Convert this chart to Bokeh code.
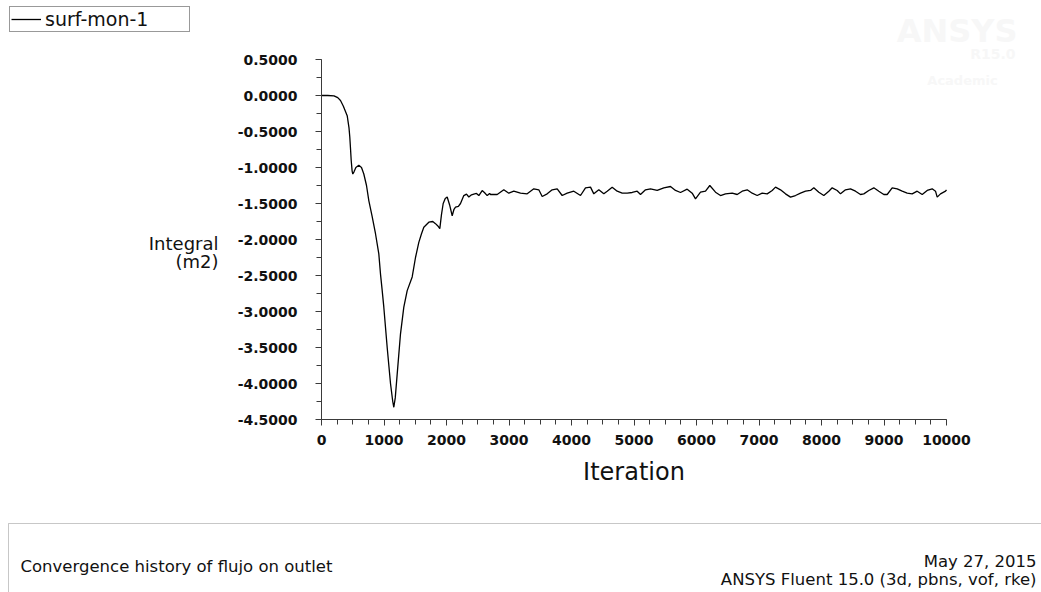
from bokeh.plotting import figure
from bokeh.models import (Range1d, SingleIntervalTicker, NumeralTickFormatter, Label,
                          BoxAnnotation, Legend, LegendItem, ColumnDataSource, LinearAxis)
from bokeh.embed import file_html
from bokeh.resources import INLINE

# ---------------- data ----------------
series_name = "surf-mon-1"
iterations = [
    0, 100, 200, 260, 304, 350, 411, 440, 453, 465, 475, 490, 501, 520, 550, 597, 640, 677,
    720, 757, 810, 864, 917, 944, 970, 997, 1051, 1104, 1140, 1157, 1180, 1211, 1264, 1317,
    1371, 1451, 1504, 1557, 1600, 1637, 1717, 1780, 1824, 1870, 1893, 1920, 1947, 1980, 2011,
    2050, 2091, 2120, 2144, 2190, 2224, 2277, 2320, 2357, 2400, 2437, 2480, 2517, 2571, 2610,
    2651, 2690, 2704, 2811, 2917, 2997, 3077, 3184, 3291, 3397, 3477, 3531, 3611, 3691, 3771,
    3851, 3931, 4037, 4144, 4224, 4304, 4357, 4437, 4517, 4571, 4651, 4731, 4811, 4891, 4971,
    5051, 5104, 5184, 5264, 5371, 5477, 5584, 5664, 5744, 5851, 5931, 5984, 6064, 6144, 6213,
    6304, 6384, 6464, 6571, 6651, 6731, 6811, 6891, 6971, 7051, 7131, 7211, 7264, 7344, 7424,
    7504, 7584, 7664, 7744, 7824, 7877, 7957, 8037, 8117, 8171, 8251, 8304, 8384, 8464, 8544,
    8624, 8677, 8757, 8837, 8917, 8997, 9051, 9131, 9211, 9291, 9371, 9451, 9531, 9611, 9691,
    9771, 9824, 9851, 9904, 9984, 10000,
]
integral = [
    0.0, 0.0, -0.005, -0.03, -0.07, -0.15, -0.28, -0.45, -0.58, -0.75, -0.90, -1.05, -1.09,
    -1.06, -1.00, -0.97, -1.00, -1.09, -1.25, -1.46, -1.68, -1.92, -2.20, -2.48, -2.70, -2.94,
    -3.50, -4.00, -4.25, -4.33, -4.20, -3.87, -3.31, -2.94, -2.71, -2.52, -2.25, -2.04, -1.92,
    -1.83, -1.76, -1.75, -1.78, -1.82, -1.85, -1.65, -1.50, -1.43, -1.41, -1.52, -1.67, -1.58,
    -1.55, -1.54, -1.50, -1.39, -1.37, -1.41, -1.38, -1.37, -1.36, -1.39, -1.32, -1.35, -1.39,
    -1.36, -1.375, -1.375, -1.310, -1.357, -1.329, -1.357, -1.366, -1.296, -1.310, -1.403,
    -1.366, -1.310, -1.296, -1.389, -1.357, -1.329, -1.389, -1.282, -1.273, -1.366, -1.310,
    -1.366, -1.329, -1.273, -1.329, -1.357, -1.357, -1.347, -1.329, -1.375, -1.310, -1.296,
    -1.319, -1.282, -1.264, -1.319, -1.347, -1.301, -1.357, -1.435, -1.343, -1.329, -1.250,
    -1.343, -1.389, -1.366, -1.357, -1.375, -1.329, -1.310, -1.357, -1.389, -1.357, -1.366,
    -1.319, -1.273, -1.310, -1.366, -1.412, -1.389, -1.357, -1.329, -1.319, -1.282, -1.343,
    -1.389, -1.329, -1.282, -1.319, -1.366, -1.310, -1.296, -1.329, -1.375, -1.366, -1.319,
    -1.282, -1.329, -1.375, -1.375, -1.282, -1.296, -1.329, -1.357, -1.366, -1.329, -1.375,
    -1.319, -1.296, -1.329, -1.412, -1.366, -1.329, -1.310,
]
x_axis_limits = [0, 10000]
y_axis_limits = [-4.5, 0.5]
x_tick_step = 1000
y_tick_step = 0.5

y_title_lines = ["Integral", "(m2)"]
x_title = "Iteration"
footer_left = "Convergence history of flujo on outlet"
footer_right = ["May 27, 2015", "ANSYS Fluent 15.0 (3d, pbns, vof, rke)"]
watermark = ["ANSYS", "R15.0", "Academic"]

# ---------------- layout: the plotting area spans the whole canvas ----------------
W, H = 1041, 592
AX_L, AX_T, AX_W, AX_H = 321, 59, 625, 360   # axes box in page pixels

def dx(px):
    return x_axis_limits[0] + (px - AX_L) * (x_axis_limits[1] - x_axis_limits[0]) / AX_W

def dy(py):
    return y_axis_limits[1] - (py - AX_T) * (y_axis_limits[1] - y_axis_limits[0]) / AX_H

p = figure(width=W, height=H, output_backend="svg", toolbar_location=None,
           x_range=Range1d(dx(0), dx(W)), y_range=Range1d(dy(H), dy(0)),
           x_axis_type=None, y_axis_type=None,
           min_border=0, min_border_left=0, min_border_right=0,
           min_border_top=0, min_border_bottom=0)
p.outline_line_color = None
p.background_fill_color = "white"
p.border_fill_color = "white"

src = ColumnDataSource(dict(it=iterations, val=integral))
r = p.line("it", "val", source=src, line_color="black", line_width=1.3)

axis_col = "#3a3a3a"
xaxis = LinearAxis(fixed_location=y_axis_limits[0], bounds=tuple(x_axis_limits),
                   ticker=SingleIntervalTicker(interval=x_tick_step, num_minor_ticks=4),
                   formatter=NumeralTickFormatter(format="0"))
yaxis = LinearAxis(fixed_location=x_axis_limits[0], bounds=tuple(y_axis_limits),
                   ticker=SingleIntervalTicker(interval=y_tick_step, num_minor_ticks=2),
                   formatter=NumeralTickFormatter(format="0.0000"))
for ax in (xaxis, yaxis):
    ax.axis_line_color = axis_col
    ax.major_tick_line_color = axis_col
    ax.minor_tick_line_color = axis_col
    ax.major_tick_in = 0
    ax.major_tick_out = 6
    ax.minor_tick_in = 0
    ax.minor_tick_out = 5
    ax.major_label_text_font = "DejaVu Sans"
    ax.major_label_text_font_size = "14px"
    ax.major_label_text_font_style = "bold"
    ax.major_label_text_color = "#111111"
xaxis.major_label_standoff = 9
yaxis.major_label_standoff = 18
xaxis.axis_label = x_title
xaxis.axis_label_text_font = "DejaVu Sans"
xaxis.axis_label_text_font_size = "24px"
xaxis.axis_label_text_font_style = "normal"
xaxis.axis_label_text_color = "#111111"
xaxis.axis_label_standoff = 10
p.add_layout(xaxis, "below")
p.add_layout(yaxis, "left")

# y title (two lines, horizontal)
for txt, py in zip(y_title_lines, [243, 261]):
    p.add_layout(Label(x=dx(218), y=dy(py), text=txt, text_align="right",
                       text_baseline="middle", text_font="DejaVu Sans",
                       text_font_size="18px", text_color="#111111"))

# legend box (top-left)
legend = Legend(items=[LegendItem(label=series_name, renderers=[r])],
                location=(9, H - 8 - 24), orientation="vertical",
                border_line_color="#333333", border_line_width=1,
                background_fill_color="white", background_fill_alpha=1,
                padding=1, spacing=0, margin=0,
                glyph_width=30, glyph_height=16, label_standoff=4,
                label_width=143, label_height=16,
                label_text_font="DejaVu Sans", label_text_font_size="19px",
                label_text_color="#111111")
p.add_layout(legend)

# footer box (open at bottom/right beyond the page)
p.add_layout(BoxAnnotation(left=dx(8), right=dx(1200), top=dy(523), bottom=dy(800),
                           fill_alpha=0, line_color="#444444", line_width=1))
p.add_layout(Label(x=dx(20), y=dy(566), text=footer_left, text_align="left",
                   text_baseline="middle", text_font="DejaVu Sans",
                   text_font_size="16.5px", text_color="#111111"))
for txt, py in zip(footer_right, [561, 579]):
    p.add_layout(Label(x=dx(1036), y=dy(py), text=txt, text_align="right",
                       text_baseline="middle", text_font="DejaVu Sans",
                       text_font_size="16.5px", text_color="#111111"))

# very faint watermark (top-right)
for txt, px, py, fs, al in zip(watermark, [1017, 1015, 962], [30, 53, 80],
                               ["32px", "14px", "13px"], ["right", "right", "center"]):
    p.add_layout(Label(x=dx(px), y=dy(py), text=txt, text_align=al,
                       text_baseline="middle", text_font="DejaVu Sans",
                       text_font_size=fs, text_font_style="bold", text_color="#f7f7f7"))

open("out.html", "w").write(file_html(p, INLINE))
